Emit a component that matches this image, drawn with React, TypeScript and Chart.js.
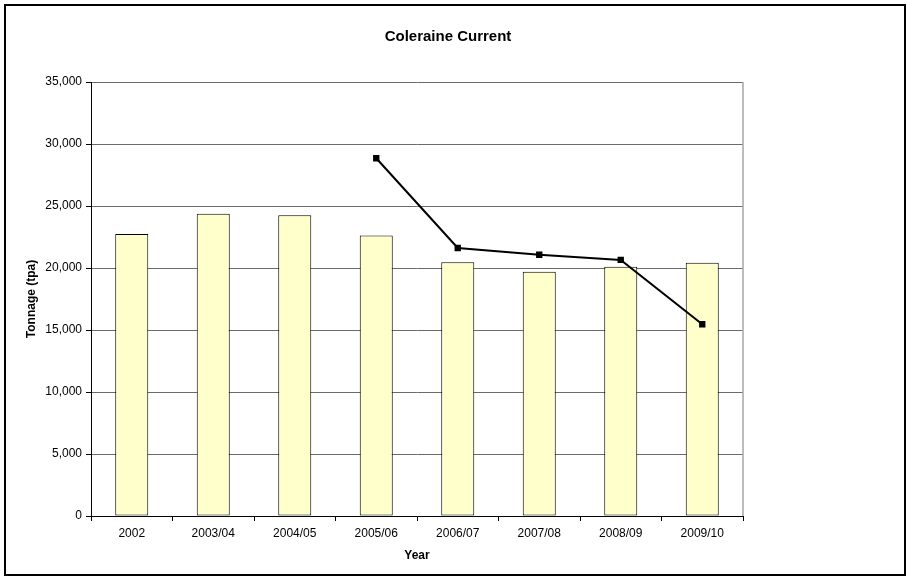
import React, { useEffect, useRef } from "react";
import { Chart, registerables } from "chart.js";

Chart.register(...registerables);

const categories = ["2002", "2003/04", "2004/05", "2005/06", "2006/07", "2007/08", "2008/09", "2009/10"];
const barValues = [22740, 24380, 24250, 22630, 20460, 19700, 20100, 20430];
const lineValues = [null, null, null, 28850, 21610, 21070, 20650, 15460];
const yTicks = [0, 5000, 10000, 15000, 20000, 25000, 30000, 35000];
const titleText = "Coleraine Current";
const xTitle = "Year";
const yTitle = "Tonnage (tpa)";

const FONT = "'Liberation Sans', Arial, sans-serif";

export default function App() {
  const ref = useRef<HTMLCanvasElement | null>(null);

  useEffect(() => {
    if (!ref.current) return;
    const decor = {
      id: "decor",
      beforeDraw(chart: any) {
        const ctx = chart.ctx;
        ctx.save();
        ctx.fillStyle = "#fff";
        ctx.fillRect(0, 0, chart.width, chart.height);
        ctx.restore();
      },
      afterDraw(chart: any) {
        const ctx = chart.ctx;
        const a = chart.chartArea;
        ctx.save();
        // plot area right border
        ctx.strokeStyle = "#a6a6a6";
        ctx.lineWidth = 1.5;
        ctx.beginPath();
        ctx.moveTo(a.right, a.top);
        ctx.lineTo(a.right, a.bottom);
        ctx.stroke();
        // outer border
        ctx.strokeStyle = "#000";
        ctx.lineWidth = 2;
        ctx.strokeRect(5, 5, 900, 570);
        // title
        ctx.fillStyle = "#000";
        ctx.textAlign = "center";
        ctx.textBaseline = "middle";
        ctx.font = `bold 15px ${FONT}`;
        ctx.fillText(titleText, 448, 37);
        // x title
        const cx = (a.left + a.right) / 2;
        ctx.font = `bold 12px ${FONT}`;
        ctx.fillText(xTitle, cx, 556);
        // y title
        ctx.translate(32, (a.top + a.bottom) / 2);
        ctx.rotate(-Math.PI / 2);
        ctx.fillText(yTitle, 0, 0);
        ctx.restore();
      },
    };

    const chart = new Chart(ref.current, {
      type: "bar",
      data: {
        labels: categories,
        datasets: [
          {
            type: "line",
            label: "Line",
            data: lineValues as any,
            borderColor: "#000",
            backgroundColor: "#000",
            borderWidth: 2,
            pointStyle: "rect",
            pointRadius: 4.5,
            pointBackgroundColor: "#000",
            pointBorderColor: "#000",
            pointBorderWidth: 0,
            order: 0,
          } as any,
          {
            type: "bar",
            label: "Bars",
            data: barValues,
            backgroundColor: "#ffffcc",
            borderColor: "#000",
            borderWidth: 1,
            borderSkipped: false,
            categoryPercentage: 1,
            barPercentage: 0.405,
            order: 1,
          } as any,
        ],
      },
      options: {
        animation: false,
        responsive: false,
        maintainAspectRatio: false,
        devicePixelRatio: 1,
        layout: { padding: { left: 0, right: 167, top: 82, bottom: 0 } },
        plugins: {
          legend: { display: false },
          title: { display: false },
          tooltip: { enabled: false },
        },
        scales: {
          x: {
            offset: true,
            grid: {
              display: true,
              drawOnChartArea: false,
              drawTicks: true,
              tickLength: 5,
              tickColor: "#000",
              offset: true,
            },
            border: { display: true, color: "#000", width: 1 },
            ticks: {
              color: "#000",
              font: { family: FONT, size: 12 },
              padding: 5,
              maxRotation: 0,
              autoSkip: false,
            },
            afterFit(scale: any) {
              scale.height = 64;
            },
          },
          y: {
            min: 0,
            max: 35000,
            afterBuildTicks(scale: any) {
              scale.ticks = yTicks.map((v) => ({ value: v }));
            },
            grid: {
              color: "#6a6a6a",
              lineWidth: 1,
              tickColor: "#000",
              tickLength: 5,
              drawTicks: true,
            },
            border: { display: true, color: "#000", width: 1 },
            ticks: {
              color: "#000",
              font: { family: FONT, size: 12 },
              padding: 4,
              callback: (v: any) => Number(v).toLocaleString("en-US"),
            },
            afterFit(scale: any) {
              scale.width = 91;
            },
          },
        },
      },
      plugins: [decor],
    });
    return () => chart.destroy();
  }, []);

  return (
    <div style={{ position: "absolute", left: 0, top: 0, width: 910, height: 580, background: "#fff" }}>
      <canvas ref={ref} width={910} height={580} style={{ width: 910, height: 580, display: "block" }} />
    </div>
  );
}
